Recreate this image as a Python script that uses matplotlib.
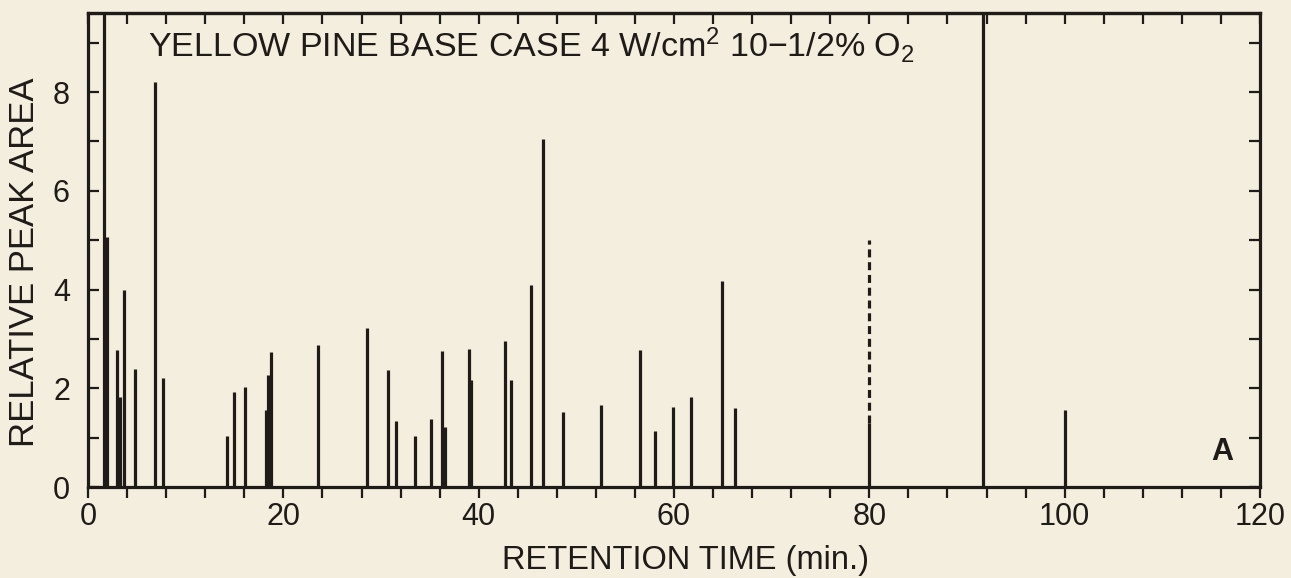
import matplotlib
matplotlib.use("Agg")
import matplotlib.pyplot as plt
from matplotlib.ticker import MultipleLocator

# ---- data ----
retention_time = [1.96, 2.97, 3.25, 3.65, 4.77, 6.9, 7.64, 14.2, 14.99, 16.1,
                  18.2, 18.4, 18.7, 23.55, 28.56, 30.69, 31.56, 33.5, 35.1,
                  36.2, 36.55, 39.04, 39.25, 42.72, 43.29, 45.31, 46.6, 48.59,
                  52.5, 56.5, 58.05, 59.9, 61.7, 64.96, 66.2, 100.05]
peak_area = [5.07, 2.77, 1.83, 4.0, 2.4, 8.2, 2.2, 1.03, 1.92, 2.02,
             1.57, 2.27, 2.73, 2.87, 3.22, 2.37, 1.33, 1.03, 1.38,
             2.75, 1.22, 2.8, 2.17, 2.95, 2.17, 4.1, 7.05, 1.52,
             1.67, 2.78, 1.13, 1.63, 1.82, 4.18, 1.6, 1.55]
offscale_time = [1.62, 91.66]          # peaks running off the top of the scale
offscale_area = [12.0, 12.0]
dashed_time = 80.0                       # peak drawn partly dashed
dashed_area = 5.0
dashed_solid_part = 1.3

x_major = [0, 20, 40, 60, 80, 100, 120]
y_major = [0, 2, 4, 6, 8]

title_text = "YELLOW PINE BASE CASE 4 W/cm$^{2}$ 10\u22121/2% O$_{2}$"
x_label = "RETENTION TIME (min.)"
y_label = "RELATIVE PEAK AREA"
panel_label = "A"

# ---- style ----
BG = "#f3eedd"
INK = "#1f1b18"
plt.rcParams["font.family"] = ["Liberation Sans", "DejaVu Sans"]
plt.rcParams["mathtext.fontset"] = "custom"
plt.rcParams["mathtext.rm"] = "Liberation Sans"
plt.rcParams["mathtext.default"] = "regular"

fig = plt.figure(figsize=(12.91, 5.78), dpi=100, facecolor=BG)
ax = fig.add_axes([0.0682, 0.1574, 0.9078, 0.8201], facecolor=BG)

ax.vlines(retention_time, 0, peak_area, color=INK, lw=2.3)
ax.vlines(offscale_time, 0, offscale_area, color=INK, lw=2.3)
ax.vlines([dashed_time], 0, [dashed_solid_part], color=INK, lw=2.3)
ax.vlines([dashed_time], [dashed_solid_part], [dashed_area], color=INK, lw=2.3,
          linestyles=(0, (2.5, 1.5)))

ax.set_xlim(0, 120)
ax.set_ylim(0, 9.6)

for s in ax.spines.values():
    s.set_linewidth(2.3)
    s.set_color(INK)

ax.xaxis.set_minor_locator(MultipleLocator(4))
ax.set_xticks(x_major)
ax.set_xticklabels([str(v) for v in x_major])
ax.yaxis.set_minor_locator(MultipleLocator(1))
ax.set_yticks(y_major)
ax.set_yticklabels([str(v) for v in y_major])

ax.tick_params(axis="x", which="both", direction="out", length=8, width=1.6,
               color=INK, labelsize=22, labelcolor=INK, pad=3, top=False)
ax.tick_params(axis="y", which="both", direction="in", length=8, width=1.6,
               color=INK, labelsize=22, labelcolor=INK, pad=13, right=True)

top = ax.secondary_xaxis("top")
top.xaxis.set_major_locator(MultipleLocator(4))
top.tick_params(axis="x", which="both", direction="in", length=8, width=1.6,
                color=INK, labeltop=False)
top.spines["top"].set_linewidth(2.3)
top.spines["top"].set_color(INK)

ax.text(0.051, 0.932, title_text, transform=ax.transAxes, ha="left", va="center",
        fontsize=24.5, color=INK)
ax.text(0.9676, 0.074, panel_label, transform=ax.transAxes, ha="center", va="center",
        fontsize=22, fontweight="bold", color=INK)

fig.text(686 / 1291, 1 - 561 / 578, x_label, ha="center", va="center",
         fontsize=23.5, color=INK)
fig.text(25 / 1291, 1 - 262 / 578, y_label, ha="center", va="center",
         rotation=90, fontsize=25, color=INK)

fig.savefig("out.png", dpi=100, facecolor=BG)
